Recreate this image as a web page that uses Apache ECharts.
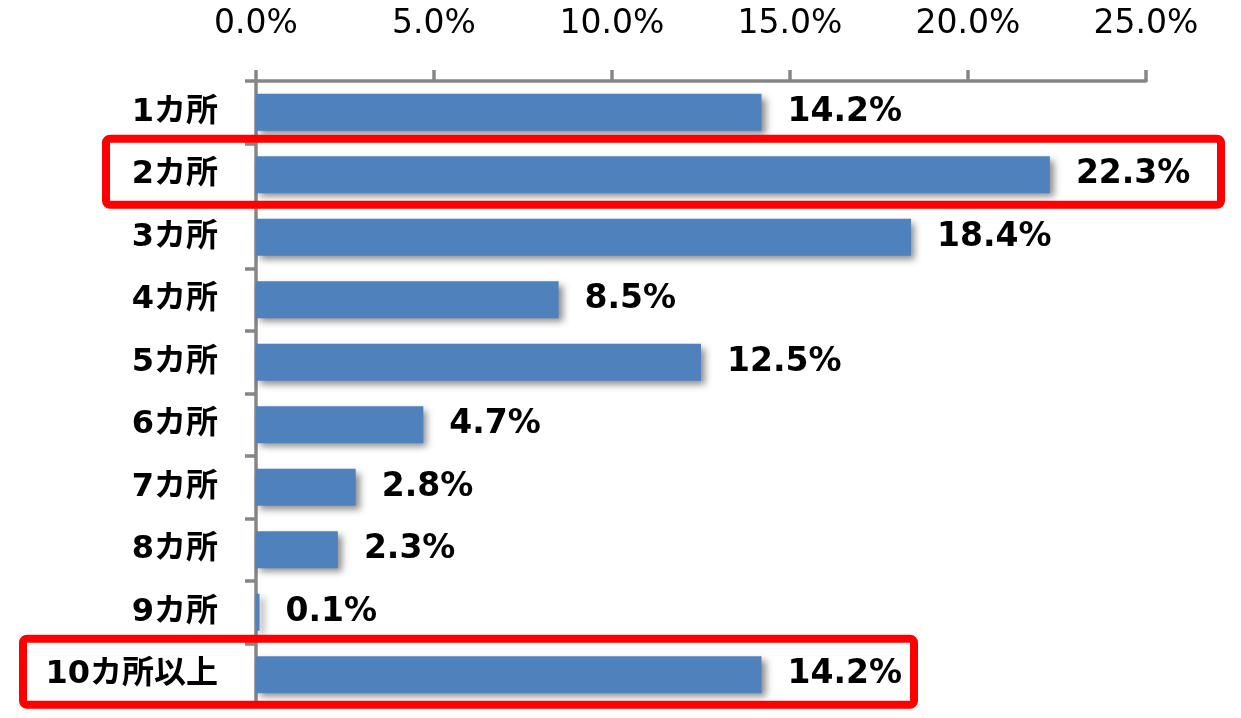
<!DOCTYPE html>
<html>
<head>
<meta charset="utf-8">
<script src="https://cdn.jsdelivr.net/npm/echarts@6/dist/echarts.min.js"></script>
<style>
	html, body { margin: 0; padding: 0; background: #fff; }
	#main { width: 1241px; height: 718px; }
</style>
</head>
<body>
<div id="main"></div>
<script>
	// categories, top to bottom
	let categories = ['1カ所', '2カ所', '3カ所', '4カ所', '5カ所', '6カ所', '7カ所', '8カ所', '9カ所', '10カ所以上'];
	// share of respondents (%)
	let values = [14.2, 22.3, 18.4, 8.5, 12.5, 4.7, 2.8, 2.3, 0.1, 14.2];
	// rows framed in red
	let highlighted = ['2カ所', '10カ所以上'];
	// left/right edge of each red frame
	let frameX = { '2カ所': [106, 1221], '10カ所以上': [23, 914] };

	let axisGrey = '#868686';
	let chart = echarts.init(document.getElementById('main'));

	chart.setOption({
		animation: false,
		backgroundColor: '#fff',
		grid: { left: 256, right: 95, top: 81, bottom: 12, containLabel: false },
		xAxis: {
			type: 'value',
			position: 'top',
			min: 0,
			max: 25,
			interval: 5,
			splitLine: { show: false },
			axisLine: { show: true, lineStyle: { color: axisGrey, width: 3.5 } },
			axisTick: { show: true, length: 11, lineStyle: { color: axisGrey, width: 3.5 } },
			axisLabel: {
				margin: 40,
				color: '#000',
				fontFamily: 'DejaVu Sans',
				fontSize: 33,
				formatter: function (v) { return v.toFixed(1) + '%'; }
			}
		},
		yAxis: {
			type: 'category',
			inverse: true,
			data: categories,
			axisLine: { show: true, lineStyle: { color: axisGrey, width: 3.5 } },
			axisTick: { show: true, length: 11, lineStyle: { color: axisGrey, width: 3.5 } },
			axisLabel: {
				margin: 38,
				color: '#000',
				fontWeight: 'bold',
				fontFamily: '"DejaVu Sans", "Noto Sans CJK JP"',
				fontSize: 32
			}
		},
		series: [{
			type: 'bar',
			data: values,
			barWidth: 37,
			itemStyle: {
				color: '#4F81BD',
				shadowColor: 'rgba(0,0,0,0.45)',
				shadowBlur: 7,
				shadowOffsetX: 4,
				shadowOffsetY: 4
			},
			label: {
				show: true,
				position: 'right',
				distance: 26,
				color: '#000',
				fontWeight: 'bold',
				fontFamily: 'DejaVu Sans',
				fontSize: 33,
				formatter: function (p) { return p.value.toFixed(1) + '%'; }
			}
		}]
	});

	// red frames placed from the category scale
	let frames = [];
	for (let name of highlighted) {
		let cy = chart.convertToPixel({ yAxisIndex: 0 }, name);
		let xs = frameX[name];
		frames.push({
			type: 'rect',
			z: 100,
			shape: { x: xs[0], y: cy - 36, width: xs[1] - xs[0], height: 66, r: 4 },
			style: { fill: null, stroke: '#FF0000', lineWidth: 8 }
		});
	}
	chart.setOption({ graphic: frames });
</script>
</body>
</html>
